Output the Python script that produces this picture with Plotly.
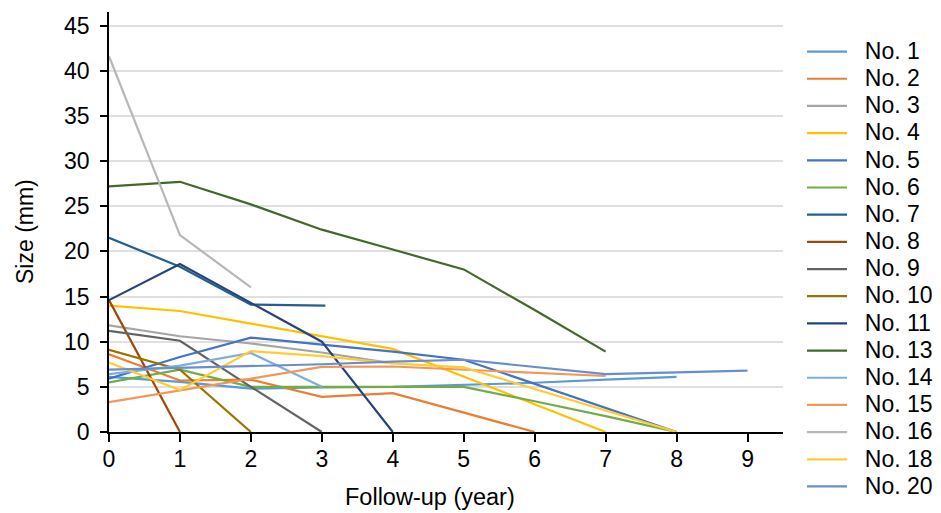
import plotly.graph_objects as go

# ---- data ----
names = ["No. 1", "No. 2", "No. 3", "No. 4", "No. 5", "No. 6", "No. 7", "No. 8", "No. 9",
         "No. 10", "No. 11", "No. 13", "No. 14", "No. 15", "No. 16", "No. 18", "No. 20"]

no1_x = [0, 1, 2, 3, 4, 5, 6, 7, 8]
no1_y = [6.1, 5.55, 4.8, 4.95, 5.0, 5.2, 5.45, 5.8, 6.1]
no2_x = [0, 1, 2, 3, 4, 6]
no2_y = [8.6, 5.7, 5.8, 3.9, 4.3, 0]
no3_x = [0, 1, 2, 3, 4]
no3_y = [11.8, 10.6, 9.8, 8.8, 7.6]
no4_x = [0, 1, 2, 3, 4, 7]
no4_y = [14.0, 13.4, 12.0, 10.6, 9.2, 0]
no5_x = [0, 1, 2, 3, 4, 5, 8]
no5_y = [5.9, 8.3, 10.45, 9.7, 8.9, 8.0, 0]
no6_x = [0, 1, 2, 3, 4, 5, 6, 7, 8]
no6_y = [5.5, 6.9, 5.0, 5.0, 5.0, 5.0, 3.4, 1.75, 0]
no7_x = [0, 1, 2, 3.05]
no7_y = [21.5, 18.3, 14.1, 14.0]
no8_x = [0, 1]
no8_y = [14.6, 0]
no9_x = [0, 1, 2, 3]
no9_y = [11.2, 10.1, 5.0, 0]
no10_x = [0, 1, 2]
no10_y = [9.1, 6.9, 0]
no11_x = [0, 1, 2, 3, 4]
no11_y = [14.6, 18.6, 14.3, 10.0, 0]
no13_x = [0, 1, 2, 3, 4, 5, 6, 7]
no13_y = [27.2, 27.7, 25.2, 22.4, 20.2, 18.0, 13.5, 8.9]
no14_x = [0, 1, 2, 3]
no14_y = [6.4, 7.35, 8.75, 5.0]
no15_x = [0, 1, 2, 3, 4, 5, 6, 7]
no15_y = [3.3, 4.6, 5.9, 7.2, 7.25, 6.9, 6.55, 6.2]
no16_x = [0, 1, 2]
no16_y = [41.6, 21.8, 16.0]
no18_x = [0, 1, 2, 3, 4, 5, 8]
no18_y = [7.7, 4.65, 8.95, 8.4, 7.6, 7.15, 0]
no20_x = [0, 1, 2, 3, 4, 5, 7, 9]
no20_y = [6.9, 7.1, 7.3, 7.5, 7.8, 8.0, 6.4, 6.8]

xs = [no1_x, no2_x, no3_x, no4_x, no5_x, no6_x, no7_x, no8_x, no9_x,
      no10_x, no11_x, no13_x, no14_x, no15_x, no16_x, no18_x, no20_x]
ys = [no1_y, no2_y, no3_y, no4_y, no5_y, no6_y, no7_y, no8_y, no9_y,
      no10_y, no11_y, no13_y, no14_y, no15_y, no16_y, no18_y, no20_y]

colors = ["#5B9BD5", "#ED7D31", "#A5A5A5", "#FFC000", "#4472C4", "#70AD47",
          "#255E91", "#9E480E", "#636363", "#997300", "#264478", "#43682B",
          "#7CAFDD", "#F1975A", "#B7B7B7", "#FFCD33", "#698ED0"]

x_ticks = [0, 1, 2, 3, 4, 5, 6, 7, 8, 9]
y_ticks = [0, 5, 10, 15, 20, 25, 30, 35, 40, 45]

FONT = "Liberation Sans, Arial, Helvetica, sans-serif"
NB = "\u00a0"

fig = go.Figure()
for name, x, y, c in zip(names, xs, ys, colors):
    fig.add_trace(go.Scatter(
        x=x, y=y, mode="lines",
        name=f'<span style="font-size:23px">{NB}{NB}{name}</span>',
        line=dict(color=c, width=2.2),
    ))

# the page body has an 8px margin, so the figure is sized/placed accordingly
W, H = 933, 505
L, R, T, B = 101, 158, 4, 81
pw, ph = W - L - R, H - T - B

fig.update_layout(
    width=W, height=H,
    margin=dict(l=L, r=R, t=T, b=B, autoexpand=False),
    paper_bgcolor="white", plot_bgcolor="white",
    font=dict(family=FONT, color="#000000", size=23),
    showlegend=True,
    legend=dict(
        xref="container", x=794 / W, xanchor="left",
        yref="container", y=1 - 25 / H, yanchor="top",
        font=dict(size=18.6, family=FONT, color="#000000"),
        itemwidth=40,
        maxheight=1.0,
        bgcolor="rgba(0,0,0,0)",
        tracegroupgap=0,
    ),
    xaxis=dict(
        range=[0, 9.5], tickvals=x_ticks, ticks="outside", ticklen=8,
        tickcolor="#000000", tickwidth=1.5, showline=True, linecolor="#000000", linewidth=1.5,
        showgrid=False, zeroline=False, tickfont=dict(size=23), automargin=False,
        ticklabelstandoff=-2,
    ),
    yaxis=dict(
        range=[0, 46.5], tickvals=y_ticks, ticks="outside", ticklen=7,
        tickcolor="#000000", tickwidth=1.5, showline=True, linecolor="#000000", linewidth=1.5,
        showgrid=True, gridcolor="#E0E0E0", gridwidth=1.5, zeroline=False,
        tickfont=dict(size=23), automargin=False, ticklabelstandoff=6,
    ),
    annotations=[
        dict(text="Follow-up (year)", xref="paper", yref="paper",
             x=(422 - L) / pw, y=(424 - 489) / ph, xanchor="center", yanchor="middle",
             showarrow=False, font=dict(size=23.5)),
        dict(text="Size (mm)", xref="paper", yref="paper",
             x=(17 - L) / pw, y=(424 - 224) / ph, xanchor="center", yanchor="middle",
             textangle=-90, showarrow=False, font=dict(size=23)),
    ],
)

fig.write_html("out.html")
